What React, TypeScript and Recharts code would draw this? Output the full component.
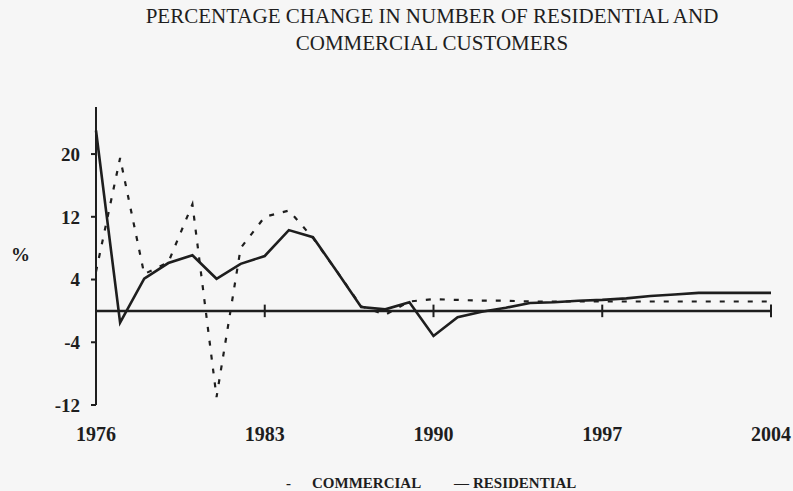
import React from 'react';
import { LineChart, Line, XAxis, YAxis, ReferenceLine } from 'recharts';

const years = [
  1976, 1977, 1978, 1979, 1980, 1981, 1982, 1983, 1984, 1985, 1986, 1987, 1988, 1989, 1990,
  1991, 1992, 1993, 1994, 1995, 1996, 1997, 1998, 1999, 2000, 2001, 2002, 2003, 2004,
];
const residential = [
  23, -1.5, 4.1, 6.1, 7.1, 4.1, 6.0, 7.0, 10.3, 9.4, 5.0, 0.5, 0.2, 1.1, -3.2,
  -0.8, -0.1, 0.4, 1.0, 1.1, 1.3, 1.4, 1.6, 1.9, 2.1, 2.3, 2.3, 2.3, 2.3,
];
const commercial = [
  5, 19.5, 4.7, 6.2, 13.6, -11, 8, 12, 12.8, 9.3, 5.0, 0.6, -0.5, 1.2, 1.5,
  1.4, 1.3, 1.3, 1.2, 1.2, 1.2, 1.2, 1.2, 1.2, 1.2, 1.2, 1.2, 1.2, 1.2,
];
const xTicks = [1976, 1983, 1990, 1997, 2004];
const yTicks = [-12, -4, 4, 12, 20];
const zeroTicks = [1983, 1990, 1997, 2004];

const data = years.map((year, i) => ({
  year,
  residential: residential[i],
  commercial: commercial[i],
}));

const ink = '#1e1e1e';
const serif = '"Liberation Serif", "DejaVu Serif", serif';

const legendStyle: React.CSSProperties = {
  position: 'absolute',
  top: 475,
  fontSize: 15,
  fontWeight: 'bold',
  whiteSpace: 'nowrap',
};

export default function App() {
  return (
    <div
      style={{
        position: 'absolute',
        left: 0,
        top: 0,
        width: 793,
        height: 491,
        background: '#f6f6f6',
        fontFamily: serif,
        color: ink,
        overflow: 'hidden',
      }}
    >
      <div
        style={{
          position: 'absolute',
          left: 132,
          top: 3,
          width: 600,
          textAlign: 'center',
          fontSize: 21,
          lineHeight: '27px',
        }}
      >
        PERCENTAGE CHANGE IN NUMBER OF RESIDENTIAL AND
        <br />
        COMMERCIAL CUSTOMERS
      </div>
      <div style={{ position: 'absolute', left: 11, top: 244, fontSize: 19, fontWeight: 'bold' }}>%</div>

      <LineChart width={793} height={491} data={data} margin={{ top: 107, right: 22, bottom: 46, left: 56 }}>
        <XAxis
          dataKey="year"
          type="number"
          domain={[1976, 2004]}
          ticks={xTicks}
          axisLine={false}
          tickLine={false}
          tickSize={0}
          tickMargin={22}
          height={40}
          tick={{ fill: ink, fontSize: 20, fontWeight: 'bold', fontFamily: serif }}
        />
        <YAxis
          type="number"
          domain={[-12, 26]}
          ticks={yTicks}
          width={40}
          axisLine={{ stroke: ink, strokeWidth: 2 }}
          tickLine={{ stroke: ink, strokeWidth: 2 }}
          tickSize={5}
          tickMargin={11}
          tick={{ fill: ink, fontSize: 19, fontWeight: 'bold', fontFamily: serif }}
        />
        <ReferenceLine y={0} stroke={ink} strokeWidth={2.5} />
        {zeroTicks.map((yr) => (
          <ReferenceLine
            key={yr}
            segment={[
              { x: yr, y: -0.8 },
              { x: yr, y: 0.8 },
            ]}
            stroke={ink}
            strokeWidth={2}
          />
        ))}
        <Line
          type="linear"
          dataKey="commercial"
          stroke={ink}
          strokeWidth={2.2}
          strokeDasharray="5 9"
          dot={false}
          isAnimationActive={false}
        />
        <Line
          type="linear"
          dataKey="residential"
          stroke={ink}
          strokeWidth={2.6}
          dot={false}
          isAnimationActive={false}
        />
      </LineChart>

      <div style={{ ...legendStyle, left: 286 }}>-</div>
      <div style={{ ...legendStyle, left: 312 }}>COMMERCIAL</div>
      <div style={{ ...legendStyle, left: 454 }}>{'\u2014'}</div>
      <div style={{ ...legendStyle, left: 473 }}>RESIDENTIAL</div>
    </div>
  );
}
